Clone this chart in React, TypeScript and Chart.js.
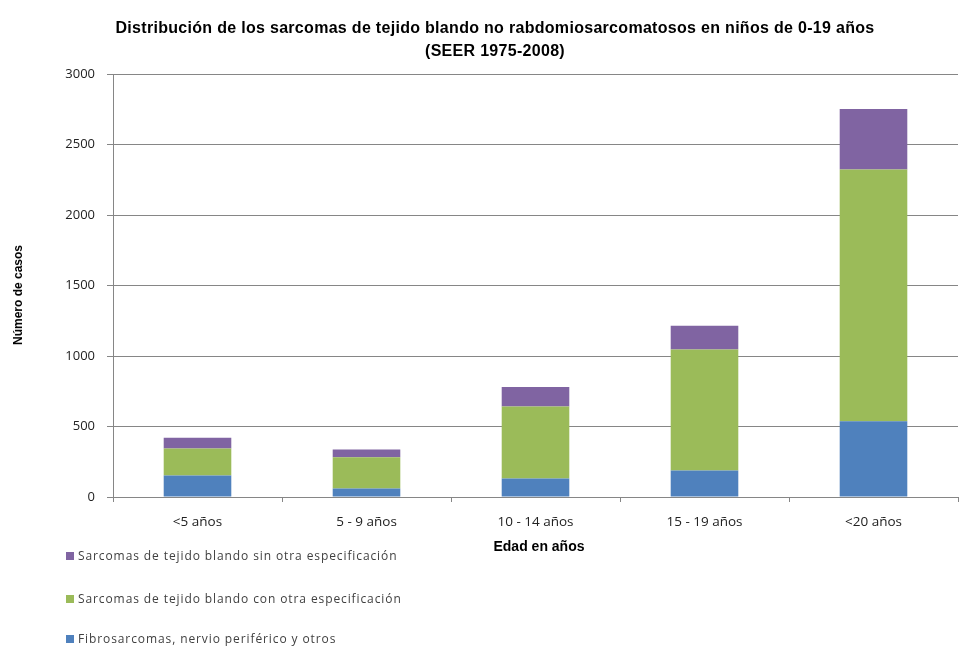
import React, { useEffect, useRef } from "react";
import { Chart, registerables } from "chart.js";

Chart.register(...registerables);

const categories = ["<5 años", "5 - 9 años", "10 - 14 años", "15 - 19 años", "<20 años"];
const fibro = [152, 60, 131, 188, 537];
const conOtra = [192, 222, 511, 858, 1785];
const sinOtra = [76, 55, 139, 168, 430];
const yTicks = [0, 500, 1000, 1500, 2000, 2500, 3000];

const titleLines = [
  "Distribución de los sarcomas de tejido blando no rabdomiosarcomatosos en niños de 0-19 años",
  "(SEER 1975-2008)",
];
const xTitle = "Edad en años";
const yTitle = "Número de casos";
const labelFibro = "Fibrosarcomas, nervio periférico y otros";
const labelCon = "Sarcomas de tejido blando con otra especificación";
const labelSin = "Sarcomas de tejido blando sin otra especificación";

const BLUE = "#4F81BD";
const GREEN = "#9BBB59";
const PURPLE = "#8064A2";

const legendItems = [
  { label: labelSin, color: PURPLE, top: 556 },
  { label: labelCon, color: GREEN, top: 599 },
  { label: labelFibro, color: BLUE, top: 639 },
];

export default function App() {
  const ref = useRef<HTMLCanvasElement | null>(null);

  useEffect(() => {
    if (!ref.current) return;
    const chart = new Chart(ref.current, {
      type: "bar",
      data: {
        labels: categories,
        datasets: [
          { label: labelFibro, data: fibro, backgroundColor: BLUE, barPercentage: 0.4, categoryPercentage: 1 },
          { label: labelCon, data: conOtra, backgroundColor: GREEN, barPercentage: 0.4, categoryPercentage: 1 },
          { label: labelSin, data: sinOtra, backgroundColor: PURPLE, barPercentage: 0.4, categoryPercentage: 1 },
        ],
      },
      options: {
        animation: false,
        responsive: false,
        maintainAspectRatio: false,
        layout: { padding: { left: 0, top: 74, right: 1, bottom: 0 } },
        plugins: { legend: { display: false }, title: { display: false }, tooltip: { enabled: false } },
        scales: {
          x: {
            stacked: true,
            grid: { offset: true, drawOnChartArea: false, drawTicks: true, tickLength: 5, color: "#868686" },
            border: { color: "#868686" },
            ticks: { color: "#222", font: { family: "Open Sans", size: 13.5 }, padding: 12 },
            afterFit: (s: any) => { s.height = 150; },
          },
          y: {
            stacked: true,
            min: 0,
            max: 3000,
            afterBuildTicks: (s: any) => { s.ticks = yTicks.map((v) => ({ value: v })); },
            grid: { color: "#868686", tickLength: 6 },
            border: { color: "#868686" },
            ticks: {
              color: "#222",
              font: { family: "Open Sans", size: 13 },
              padding: 12,
              callback: (v: any) => String(v),
            },
            afterFit: (s: any) => { s.width = 113; },
          },
        },
      },
    });
    return () => chart.destroy();
  }, []);

  return (
    <div style={{ position: "fixed", left: 0, top: 0, width: 959, height: 647, background: "#fff", overflow: "hidden" }}>
      <canvas ref={ref} width={959} height={647} style={{ position: "absolute", left: 0, top: 0 }} />
      <div
        style={{
          position: "absolute", left: 30, width: 930, top: 16, textAlign: "center",
          fontFamily: "Liberation Sans, sans-serif", fontWeight: "bold", fontSize: 16,
          lineHeight: "23px", color: "#000", letterSpacing: 0.3,
        }}
      >
        {titleLines.map((t, i) => <div key={i}>{t}</div>)}
      </div>
      <div
        style={{
          position: "absolute", left: 18, top: 295, transform: "translate(-50%,-50%) rotate(-90deg)",
          whiteSpace: "nowrap", fontFamily: "Liberation Sans, sans-serif", fontWeight: "bold", fontSize: 12, color: "#000",
        }}
      >
        {yTitle}
      </div>
      <div
        style={{
          position: "absolute", left: 539, top: 546, transform: "translate(-50%,-50%)",
          whiteSpace: "nowrap", fontFamily: "Liberation Sans, sans-serif", fontWeight: "bold", fontSize: 14, color: "#000",
        }}
      >
        {xTitle}
      </div>
      {legendItems.map((it, i) => (
        <div
          key={i}
          style={{
            position: "absolute", left: 66, top: it.top, transform: "translateY(-50%)",
            display: "flex", alignItems: "center", whiteSpace: "nowrap", lineHeight: "14px",
            fontFamily: "Open Sans, sans-serif", fontSize: 12, color: "#404040", letterSpacing: 0.9,
          }}
        >
          <span style={{ display: "inline-block", width: 8, height: 8, background: it.color, marginRight: 4 }} />
          {it.label}
        </div>
      ))}
    </div>
  );
}
